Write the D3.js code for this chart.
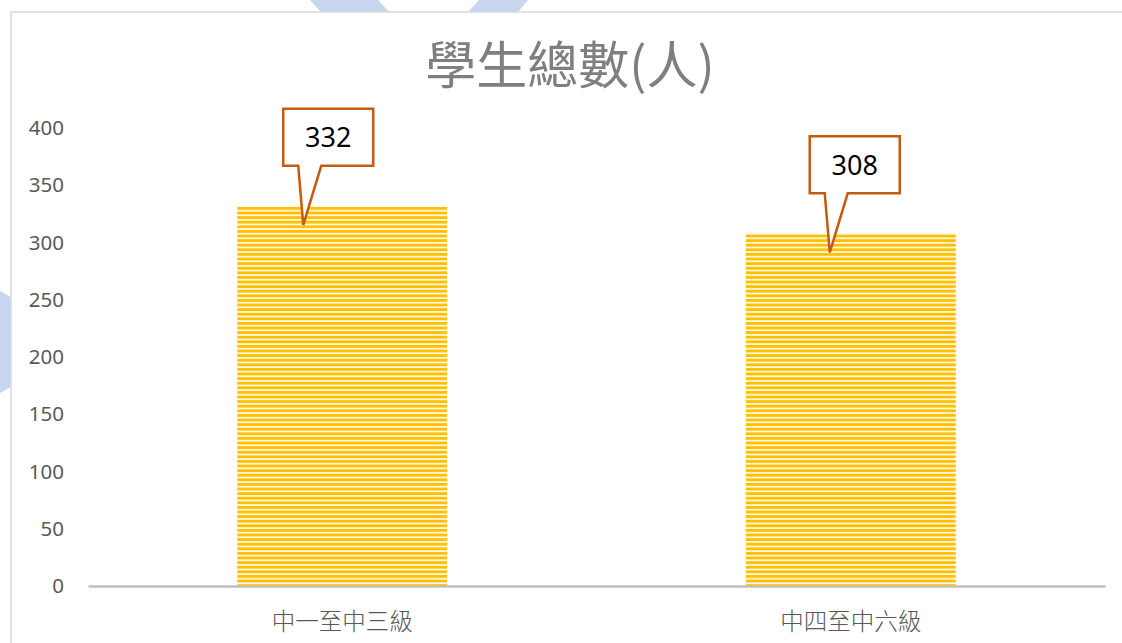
<!DOCTYPE html>
<html>
<head>
<meta charset="utf-8">
<script src="https://cdn.jsdelivr.net/npm/d3@7"></script>
<style>
  html, body { margin: 0; padding: 0; background: #fff; }
  svg { display: block; }
</style>
</head>
<body>
<svg id="chart"></svg>
<script>
const title = "學生總數(人)";
const categories = ["中一至中三級", "中四至中六級"];
const students = [332, 308];
const yTicks = [0, 50, 100, 150, 200, 250, 300, 350, 400];

const width = 1122;
const height = 643;
const margin = { top: 128, right: 17, bottom: 57, left: 88 };
const frame = { x: 11, y: 12 };
const calloutDx = [-14, 4];

const svg = d3.select("svg#chart").attr("width", width).attr("height", height);

// decorative slide shapes peeking out behind the chart frame
const deco = svg.append("g").attr("fill", "#c7d5ee");
deco.append("path").attr("d", "M310,0 L378,0 L389,12 L321,12 Z");
deco.append("path").attr("d", "M479,0 L528,0 L518,12 L468,12 Z");
deco.append("circle").attr("cx", -23).attr("cy", 342).attr("r", 56);

svg.append("rect")
  .attr("x", frame.x)
  .attr("y", frame.y)
  .attr("width", width)
  .attr("height", height)
  .attr("fill", "#fff")
  .attr("stroke", "#d9d9d9")
  .attr("stroke-width", 1.5);

// striped bar fill
const defs = svg.append("defs");
const pat = defs.append("pattern")
  .attr("id", "stripes")
  .attr("patternUnits", "userSpaceOnUse")
  .attr("width", 8)
  .attr("height", 4.6);
pat.append("rect").attr("width", 8).attr("height", 4.6).attr("fill", "#ffc000");
pat.append("rect").attr("y", 2.8).attr("width", 8).attr("height", 1.8).attr("fill", "#fff8e4");

const xScale = d3.scaleBand(categories, [margin.left, width - margin.right])
  .paddingInner(0.587)
  .paddingOuter(0.2935);

const yScale = d3.scaleLinear([0, 400], [height - margin.bottom, margin.top]);

svg.append("text")
  .attr("x", 570)
  .attr("y", 84)
  .attr("text-anchor", "middle")
  .style("font-family", "'Noto Sans CJK TC', sans-serif")
  .style("font-size", "51px")
  .style("fill", "#7f7f7f")
  .text(title);

const yAxis = d3.axisLeft(yScale).tickValues(yTicks).tickSize(0).tickPadding(6);
svg.append("g")
  .attr("transform", "translate(70,0)")
  .call(yAxis)
  .call(g => g.select(".domain").remove())
  .selectAll("text")
  .style("font-family", "'Noto Sans', sans-serif")
  .style("font-size", "20.5px")
  .style("fill", "#595959");

svg.append("g")
  .selectAll("rect")
  .data(students)
  .join("rect")
  .attr("x", (d, i) => xScale(categories[i]))
  .attr("y", d => yScale(d))
  .attr("width", xScale.bandwidth())
  .attr("height", d => yScale(0) - yScale(d))
  .attr("fill", "url(#stripes)");

const xAxis = d3.axisBottom(xScale).tickSize(0).tickPadding(27);
svg.append("g")
  .attr("transform", `translate(0,${yScale(0)})`)
  .call(xAxis)
  .call(g => g.select(".domain").attr("stroke", "#bfbfbf").attr("stroke-width", 2.5))
  .selectAll("text")
  .style("font-family", "'Noto Sans CJK TC', sans-serif")
  .style("font-size", "23.5px")
  .style("font-weight", 300)
  .style("fill", "#595959");

// callout data labels
const boxW = 90, boxH = 57;
const callouts = svg.append("g")
  .selectAll("g")
  .data(students)
  .join("g")
  .attr("transform", (d, i) => {
    const cx = xScale(categories[i]) + xScale.bandwidth() / 2 + calloutDx[i];
    return `translate(${cx - boxW / 2},${yScale(d) - 40 - boxH})`;
  });

callouts.append("path")
  .attr("d", `M0,0 H${boxW} V${boxH} H38 L20,${boxH + 59} L15,${boxH} H0 Z`)
  .attr("fill", "#fff")
  .attr("stroke", "#c55a11")
  .attr("stroke-width", 2.5)
  .attr("stroke-linejoin", "miter");

callouts.append("text")
  .attr("x", boxW / 2)
  .attr("y", boxH / 2)
  .attr("dy", "0.36em")
  .attr("text-anchor", "middle")
  .style("font-family", "'Noto Sans', sans-serif")
  .style("font-size", "27px")
  .style("fill", "#000")
  .text(d => d);
</script>
</body>
</html>
